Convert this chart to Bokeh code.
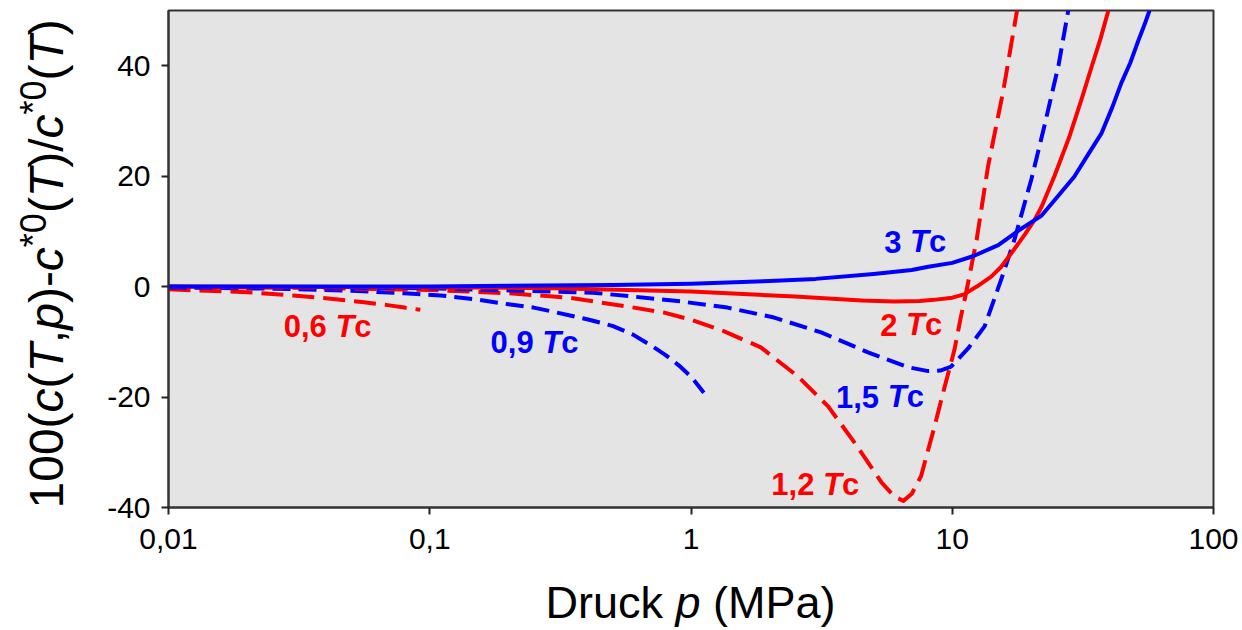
import math
from bokeh.plotting import figure
from bokeh.models import Label, FixedTicker, Range1d
from bokeh.layouts import row, column
from bokeh.embed import file_html
from bokeh.resources import INLINE

# ---------------- data ----------------
p_06 = [0.01, 0.015, 0.02, 0.03, 0.04, 0.055, 0.07, 0.08, 0.092]
y_06 = [-0.5, -0.8, -1.0, -1.6, -2.1, -2.8, -3.4, -3.8, -4.2]

p_09 = [0.01, 0.02, 0.03, 0.05, 0.08, 0.11, 0.15, 0.2, 0.25, 0.3, 0.4, 0.5, 0.6, 0.7, 0.8, 0.9, 1.0, 1.12]
y_09 = [-0.15, -0.3, -0.45, -0.75, -1.2, -1.6, -2.3, -3.2, -3.8, -4.6, -5.9, -7.1, -8.7, -10.6, -12.4, -14.3, -16.3, -19.2]

p_12 = [0.01, 0.03, 0.1, 0.2, 0.34, 0.57, 0.79, 1.0, 1.34, 1.85, 2.57, 3.35, 4.22, 5.35, 6.0, 6.5, 7.0,
        7.6, 8.5, 9.3, 10.2, 10.8, 11.3, 12.4, 13.7, 15.7, 17.7]
y_12 = [-0.06, -0.2, -0.6, -1.2, -2.0, -3.6, -4.7, -6.0, -8.1, -11.0, -16.3, -21.7, -28.2, -35.4, -38.0, -38.8, -37.5,
        -34.3, -25.8, -18.6, -11.4, -5.4, -1.1, 8.5, 21.7, 35.6, 50.0]

p_15 = [0.01, 0.1, 0.42, 0.6, 0.92, 1.38, 2.08, 3.15, 4.76, 6.78, 8.1, 9.0, 9.9, 10.5, 11.5, 13.3, 15.4, 17.3,
        20.1, 22.5, 25.5, 27.8]
y_15 = [-0.03, -0.3, -1.1, -1.8, -2.7, -3.8, -5.6, -8.3, -11.9, -14.6, -15.3, -15.2, -14.5, -13.2, -11.2, -7.2, 1.3, 8.5,
        19.5, 29.0, 40.0, 50.0]

p_20 = [0.01, 0.1, 0.3, 1.0, 2.5, 4.5, 6.0, 7.5, 8.5, 10.0, 11.1, 12.5, 14.1, 15.4, 17.3, 19.0, 20.6, 22.0, 24.6,
        28.0, 31.2, 34.0, 37.0, 39.6]
y_20 = [0.0, -0.1, -0.3, -0.9, -1.8, -2.5, -2.7, -2.6, -2.4, -2.0, -1.4, 0.1, 1.8, 3.6, 6.8, 9.5, 12.0, 14.5, 20.0,
        27.0, 33.8, 39.5, 45.0, 50.0]

p_30 = [0.01, 0.1, 0.5, 1.0, 2.0, 3.0, 5.0, 7.0, 8.1, 10.0, 12.0, 15.0, 18.0, 21.9, 25.0, 29.3, 33.0, 37.3, 41.0,
        44.4, 48.0, 51.6, 54.5, 56.9]
y_30 = [0.0, 0.02, 0.3, 0.5, 1.0, 1.4, 2.3, 3.0, 3.6, 4.3, 5.5, 7.5, 10.2, 12.8, 16.0, 19.9, 23.8, 27.8, 32.5,
        36.9, 40.5, 44.6, 47.5, 50.0]

x_ticks = [0.01, 0.1, 1, 10, 100]
x_tick_labels = ["0,01", "0,1", "1", "10", "100"]
y_ticks = [-40, -20, 0, 20, 40]
y_tick_labels = ["-40", "-20", "0", "20", "40"]

RED = "#ff0000"
BLUE = "#0000ff"
FONT = "Liberation Sans"

series = [
    (p_06, y_06, RED, "22 9"),
    (p_09, y_09, BLUE, "18 8"),
    (p_12, y_12, RED, "22 9"),
    (p_15, y_15, BLUE, "18 8"),
    (p_20, y_20, RED, None),
    (p_30, y_30, BLUE, None),
]

# curve labels: (number, color, p anchor, y anchor)
curve_labels = [
    ("0,6", RED, 0.0276, -7.2),
    ("0,9", BLUE, 0.171, -10.1),
    ("1,5", BLUE, 3.59, -19.9),
    ("1,2", RED, 2.03, -35.8),
    ("2", RED, 5.30, -6.9),
    ("3", BLUE, 5.49, 8.1),
]

# Arial / Liberation Sans advance widths (per 1000 em)
W = {'0': 556, '1': 556, '2': 556, '3': 556, '4': 556, '5': 556, '6': 556, '7': 556, '8': 556, '9': 556,
     ',': 278, ' ': 278, '(': 333, ')': 333, '-': 333, '*': 389, '/': 278, 'c': 500, 'T': 611, 'p': 556,
     'D': 722, 'r': 333, 'u': 556, 'k': 500, 'M': 833, 'P': 667, 'a': 556}
WB = dict(W)
WB['c'] = 556


def tw(s, size, bold=False):
    t = WB if bold else W
    return sum(t.get(ch, 556) for ch in s) * size / 1000.0


# ---------------- layout geometry (page pixels) ----------------
TOTAL_W, TOTAL_H = 1240, 628
YL_W = 88                       # strip for the y-axis title
MAIN_H = 568                    # main figure height
FRAME_L, FRAME_T, FRAME_W, FRAME_H = 168, 10, 1045, 497
MAIN_W = TOTAL_W - YL_W
XL_H = TOTAL_H - MAIN_H
B_LEFT = FRAME_L - YL_W
B_RIGHT = MAIN_W - B_LEFT - FRAME_W

p = figure(width=MAIN_W, height=MAIN_H, x_axis_type="log",
           x_range=Range1d(0.01, 100), y_range=Range1d(-40, 50),
           output_backend="svg", toolbar_location=None,
           min_border_left=B_LEFT, min_border_right=B_RIGHT,
           min_border_top=FRAME_T, min_border_bottom=MAIN_H - FRAME_T - FRAME_H)

p.background_fill_color = "#e4e4e4"
p.border_fill_color = "white"
p.outline_line_color = "#333333"
p.outline_line_width = 2
p.grid.visible = False

for ax in (p.xaxis[0], p.yaxis[0]):
    ax.axis_line_color = "#333333"
    ax.axis_line_width = 2
    ax.major_tick_line_color = "#222222"
    ax.major_tick_line_width = 2
    ax.major_tick_out = 7
    ax.major_tick_in = 0
    ax.minor_tick_line_color = None
    ax.major_label_text_font = FONT
    ax.major_label_text_font_size = "30px"
    ax.major_label_text_color = "black"
    ax.axis_label = None

p.xaxis.ticker = FixedTicker(ticks=x_ticks)
p.xaxis.major_label_overrides = {t: l for t, l in zip(x_ticks, x_tick_labels)}
p.xaxis.major_label_standoff = 14
p.yaxis.ticker = FixedTicker(ticks=y_ticks)
p.yaxis.major_label_overrides = {t: l for t, l in zip(y_ticks, y_tick_labels)}
p.yaxis.major_label_standoff = 11

for xs, ys, col, dash in series:
    kw = dict(line_color=col, line_width=4, line_join="round")
    if dash:
        kw["line_dash"] = dash
    p.line(xs, ys, **kw)

# curve labels "<n> Tc" with italic T
LS = 31
for num, col, xa, ya in curve_labels:
    x0 = 0.0
    for txt, style in ((num, "bold"), ("T", "bold italic"), ("c", "bold")):
        p.add_layout(Label(x=xa, y=ya, text=txt, text_color=col, text_font=FONT,
                           text_font_size=f"{LS}px", text_font_style=style,
                           text_align="left", text_baseline="middle", x_offset=x0))
        x0 += tw(txt + (" " if txt == num else ""), LS, bold=True)


def blank(w, h, xr, yr, bl=0, br=0):
    f = figure(width=w, height=h, x_range=Range1d(*xr), y_range=Range1d(*yr),
               output_backend="svg", toolbar_location=None, title=None,
               x_axis_location=None, y_axis_location=None, min_border=0,
               min_border_left=bl, min_border_right=br)
    f.grid.visible = False
    f.outline_line_color = None
    f.background_fill_color = "white"
    f.border_fill_color = "white"
    return f


# x axis title strip (frame aligned with the main frame; data = page pixels)
xf = blank(MAIN_W, XL_H, (FRAME_L, FRAME_L + FRAME_W), (TOTAL_H, MAIN_H), B_LEFT, B_RIGHT)
XF = 45
x0 = 545
for txt, style, adv in (("Druck", "normal", "Druck "), ("p", "italic", "p "), ("(MPa)", "normal", "(MPa)")):
    xf.add_layout(Label(x=x0, y=618 - 0.358 * XF, text=txt, text_color="black", text_font=FONT,
                        text_font_size=f"{XF}px", text_font_style=style,
                        text_align="left", text_baseline="middle"))
    x0 += tw(adv, XF)

# y axis title strip (data = page pixels), rotated text 100(c(T,p)-c*0(T)/c*0(T)
yf = blank(YL_W, TOTAL_H, (0, YL_W), (TOTAL_H, 0))
YF = 48
BASE_X = 63
pieces = [("100(", "normal", 1.0, 0.0), ("c", "italic", 1.0, 0.0), ("(", "normal", 1.0, 0.0),
          ("T", "italic", 1.0, 0.0), (",", "normal", 1.0, 0.0), ("p", "italic", 1.0, 0.0),
          (")-", "normal", 1.0, 0.0), ("c", "italic", 1.0, 0.0), ("*0", "normal", 0.75, 0.36),
          ("(", "normal", 1.0, 0.0), ("T", "italic", 1.0, 0.0), (")/", "normal", 1.0, 0.0),
          ("c", "italic", 1.0, 0.0), ("*0", "normal", 0.75, 0.36), ("(", "normal", 1.0, 0.0),
          ("T", "italic", 1.0, 0.0), (")", "normal", 1.0, 0.0)]
ypos = 508
for txt, style, sc, rise in pieces:
    size = YF * sc
    cx = BASE_X - rise * YF - 0.358 * size
    yf.add_layout(Label(x=cx, y=ypos, text=txt, text_color="black", text_font=FONT,
                        text_font_size=f"{size:.1f}px", text_font_style=style,
                        angle=math.pi / 2, text_align="left", text_baseline="middle"))
    ypos -= tw(txt, size)

layout = row(yf, column(p, xf, spacing=0), spacing=0)
open("out.html", "w").write(file_html(layout, INLINE))
